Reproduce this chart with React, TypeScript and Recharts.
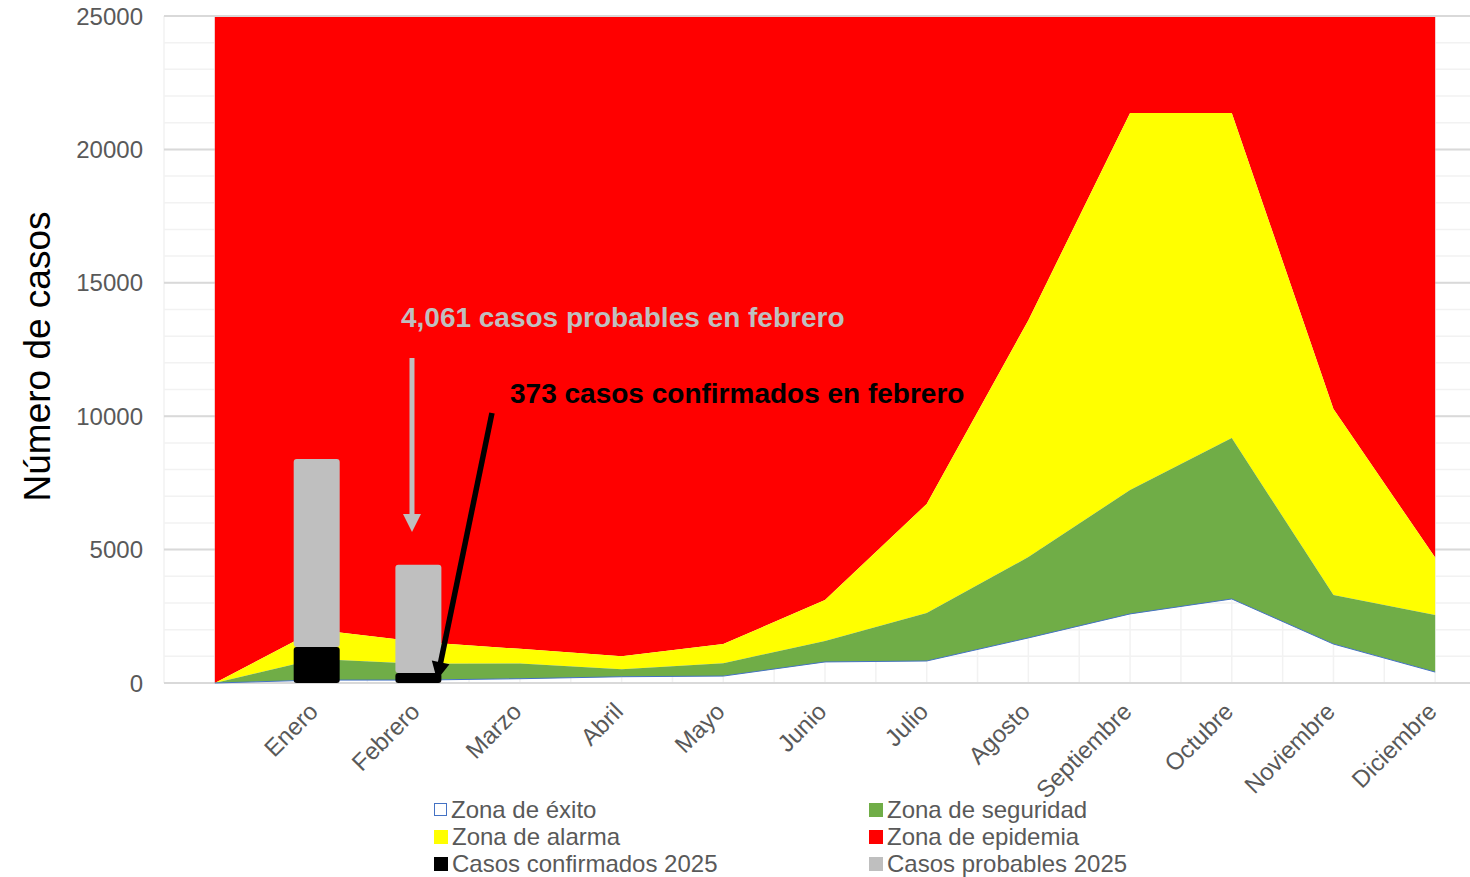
import React from "react";
import {
  Area,
  Bar,
  CartesianGrid,
  ComposedChart,
  ReferenceDot,
  ReferenceLine,
  XAxis,
  YAxis,
} from "recharts";

const meses = [
  "",
  "Enero",
  "Febrero",
  "Marzo",
  "Abril",
  "Mayo",
  "Junio",
  "Julio",
  "Agosto",
  "Septiembre",
  "Octubre",
  "Noviembre",
  "Diciembre",
];

// upper limit of each zone
const exito = [0, 110, 110, 160, 235, 260, 790, 825, 1690, 2590, 3150, 1460, 410];
const seguridad = [0, 900, 720, 730, 520, 740, 1575, 2625, 4720, 7235, 9180, 3300, 2550];
const alarma = [0, 2000, 1550, 1280, 1000, 1460, 3110, 6710, 13600, 21360, 21360, 10270, 4700];
const epidemia = [25000, 25000, 25000, 25000, 25000, 25000, 25000, 25000, 25000, 25000, 25000, 25000, 25000];

const confirmados = [null, 1350, 373, null, null, null, null, null, null, null, null, null, null];
const probables = [null, 7050, 4061, null, null, null, null, null, null, null, null, null, null];

const yTicks = [0, 5000, 10000, 15000, 20000, 25000];

const notaProbables = "4,061 casos probables en febrero";
const notaConfirmados = "373 casos confirmados en febrero";

const data = meses.map((mes, i) => ({
  mes,
  exito: exito[i],
  seguridad: [exito[i], seguridad[i]],
  alarma: [seguridad[i], alarma[i]],
  epidemia: [alarma[i], epidemia[i]],
  confirmados: confirmados[i],
  probables: probables[i],
}));

// helper axis spanning the plot, 0..12
const NUM_MAX = meses.length - 1;
const bandTicks = [...meses.map((_, i) => (i * NUM_MAX) / meses.length), NUM_MAX];

const FONT = "'Liberation Sans', Arial, sans-serif";
const GRIS = "#595959";

const legendItems = [
  { name: "Zona de éxito", fill: "#fff", border: "#4472C4" },
  { name: "Zona de seguridad", fill: "#70AD47" },
  { name: "Zona de alarma", fill: "#FFFF00" },
  { name: "Zona de epidemia", fill: "#FF0000" },
  { name: "Casos confirmados 2025", fill: "#000000" },
  { name: "Casos probables 2025", fill: "#BFBFBF" },
];

function MonthTick(props: any) {
  const { x, y, payload } = props;
  if (!payload.value) return null;
  return (
    <text
      x={x + 3}
      y={y + 30}
      transform={`rotate(-45, ${x + 3}, ${y + 30})`}
      textAnchor="end"
      fontSize={24}
      fontFamily={FONT}
      fill={GRIS}
    >
      {payload.value}
    </text>
  );
}

function arrow(color: string, width: number) {
  return (props: any) => {
    const { x1, y1, x2, y2 } = props;
    const dx = x2 - x1;
    const dy = y2 - y1;
    const len = Math.hypot(dx, dy);
    const ux = dx / len;
    const uy = dy / len;
    const head = 18;
    const half = 9;
    const bx = x2 - ux * head;
    const by = y2 - uy * head;
    return (
      <g>
        <line x1={x1} y1={y1} x2={bx + ux * 2} y2={by + uy * 2} stroke={color} strokeWidth={width} />
        <polygon
          points={`${x2},${y2} ${bx - uy * half},${by + ux * half} ${bx + uy * half},${by - ux * half}`}
          fill={color}
        />
      </g>
    );
  };
}

function note(text: string, color: string) {
  return (props: any) => (
    <text x={props.cx} y={props.cy} fontSize={28} fontWeight="bold" fontFamily={FONT} fill={color}>
      {text}
    </text>
  );
}

function Legend() {
  return (
    <div
      style={{
        position: "absolute",
        left: 434,
        top: 796,
        display: "grid",
        gridTemplateColumns: "435px 300px",
        fontFamily: FONT,
        fontSize: 24,
        color: GRIS,
      }}
    >
      {legendItems.map((it) => (
        <div key={it.name} style={{ display: "flex", alignItems: "center", height: 27, whiteSpace: "nowrap" }}>
          <span
            style={{
              display: "inline-block",
              width: it.border ? 11 : 14,
              height: it.border ? 11 : 14,
              background: it.fill,
              border: it.border ? `1.5px solid ${it.border}` : "none",
              marginRight: 4,
            }}
          />
          {it.name}
        </div>
      ))}
    </div>
  );
}

export default function App() {
  return (
    <div
      style={{
        position: "absolute",
        left: 0,
        top: 0,
        width: 1470,
        height: 877,
        overflow: "hidden",
        background: "#fff",
      }}
    >
      <ComposedChart
        width={1500}
        height={877}
        data={data}
        margin={{ top: 0, right: 14, bottom: 0, left: 0 }}
      >
        <CartesianGrid
          stroke="#F2F2F2"
          strokeWidth={1.5}
          horizontalCoordinatesGenerator={({ offset }: any) => {
            const out: number[] = [];
            for (let v = 0; v <= 25000; v += 1000) {
              out.push(offset.top + offset.height * (1 - v / 25000));
            }
            return out;
          }}
          verticalCoordinatesGenerator={({ offset }: any) => {
            const out: number[] = [];
            const n = meses.length * 2;
            for (let i = 0; i <= n; i++) out.push(offset.left + (i * offset.width) / n);
            return out;
          }}
        />
        <CartesianGrid stroke="#D9D9D9" strokeWidth={2} vertical={false} />
        <XAxis
          dataKey="mes"
          interval={0}
          height={194}
          axisLine={false}
          tickLine={false}
          tickSize={0}
          tickMargin={0}
          tick={<MonthTick />}
        />
        <XAxis
          xAxisId="num"
          type="number"
          orientation="top"
          domain={[0, NUM_MAX]}
          ticks={bandTicks}
          interval={0}
          allowDataOverflow
          height={16}
          tick={false}
          tickSize={6}
          stroke="#D9D9D9"
          axisLine={{ stroke: "#D9D9D9", strokeWidth: 2 }}
          tickLine={{ stroke: "#D9D9D9", strokeWidth: 1.5 }}
        />
        <YAxis
          width={164}
          domain={[0, 25000]}
          ticks={yTicks}
          axisLine={false}
          tickLine={false}
          tickSize={0}
          tickMargin={21}
          tick={{ fontSize: 24, fill: GRIS, fontFamily: FONT }}
          label={{
            content: ({ viewBox }: any) => (
              <text
                x={viewBox.x + 50}
                y={viewBox.y + viewBox.height / 2 + 7}
                transform={`rotate(-90, ${viewBox.x + 50}, ${viewBox.y + viewBox.height / 2 + 7})`}
                textAnchor="middle"
                fontSize={37}
                fontFamily={FONT}
                fill="#000"
              >
                Número de casos
              </text>
            ),
          }}
        />
        <Area
          type="linear"
          dataKey="epidemia"
          fill="#FF0000"
          fillOpacity={1}
          stroke="none"
          isAnimationActive={false}
        />
        <Area
          type="linear"
          dataKey="alarma"
          fill="#FFFF00"
          fillOpacity={1}
          stroke="none"
          isAnimationActive={false}
        />
        <Area
          type="linear"
          dataKey="seguridad"
          fill="#70AD47"
          fillOpacity={1}
          stroke="none"
          isAnimationActive={false}
        />
        <Area
          type="linear"
          dataKey="exito"
          fill="none"
          stroke="#4472C4"
          strokeWidth={1}
          isAnimationActive={false}
        />
        <Bar
          dataKey="confirmados"
          stackId="casos"
          fill="#000000"
          barSize={46}
          radius={3}
          isAnimationActive={false}
        />
        <Bar
          dataKey="probables"
          stackId="casos"
          fill="#BFBFBF"
          barSize={46}
          radius={3}
          isAnimationActive={false}
        />
        <ReferenceLine
          xAxisId="num"
          ifOverflow="visible"
          segment={[
            { x: 2.251, y: 12180 },
            { x: 2.251, y: 5660 },
          ]}
          shape={arrow("#BFBFBF", 5)}
        />
        <ReferenceLine
          xAxisId="num"
          ifOverflow="visible"
          segment={[
            { x: 2.977, y: 10120 },
            { x: 2.478, y: 112 },
          ]}
          shape={arrow("#000000", 5.5)}
        />
        <ReferenceDot xAxisId="num" x={2.151} y={13340} r={0} ifOverflow="visible" shape={note(notaProbables, "#BFBFBF")} />
        <ReferenceDot xAxisId="num" x={3.141} y={10510} r={0} ifOverflow="visible" shape={note(notaConfirmados, "#000000")} />
      </ComposedChart>
      <Legend />
    </div>
  );
}
